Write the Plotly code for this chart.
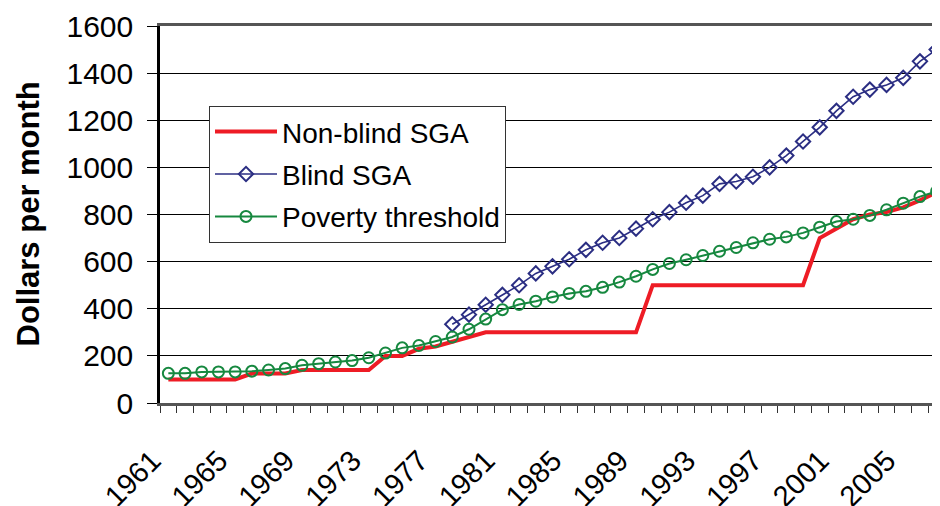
import plotly.graph_objects as go

years = list(range(1961, 2008))
nonblind_sga = [100, 100, 100, 100, 100, 125, 125, 125, 140, 140,
                140, 140, 140, 200, 200, 230, 240, 260, 280, 300,
                300, 300, 300, 300, 300, 300, 300, 300, 300, 500,
                500, 500, 500, 500, 500, 500, 500, 500, 500, 700,
                740, 780, 800, 810, 830, 860, 895]
blind_sga = [None, None, None, None, None, None, None, None, None, None,
             None, None, None, None, None, None, None, 334, 375, 417,
             459, 500, 550, 580, 610, 650, 680, 700, 740, 780,
             810, 850, 880, 930, 940, 960, 1000, 1050, 1110, 1170,
             1240, 1300, 1330, 1350, 1380, 1450, 1500]
poverty = [126, 126, 132, 132, 132, 135, 140, 146, 160, 167,
           174, 180, 192, 212, 234, 244, 261, 280, 313, 356,
           396, 418, 432, 450, 465, 474, 491, 513, 538, 567,
           592, 608, 626, 644, 660, 680, 695, 705, 722, 746,
           770, 780, 796, 820, 848, 876, 898]
tick_years = [1961, 1965, 1969, 1973, 1977, 1981, 1985, 1989, 1993, 1997, 2001, 2005]
tick_labels = [str(y) for y in tick_years]

FONT = "Liberation Sans, Arial, sans-serif"

fig = go.Figure()
fig.add_trace(go.Scatter(x=years, y=nonblind_sga, name="Non-blind SGA", mode="lines",
                         line=dict(color="#EE1C25", width=4), legendgroup="a"))
fig.add_trace(go.Scatter(x=years, y=blind_sga, name="Blind SGA", mode="lines+markers",
                         line=dict(color="#2B2E83", width=1.6),
                         marker=dict(symbol="diamond-open", size=11, line=dict(width=2, color="#2B2E83")),
                         legendgroup="b"))
fig.add_trace(go.Scatter(x=years, y=poverty, name="Poverty threshold", mode="lines+markers",
                         line=dict(color="#16883F", width=2),
                         marker=dict(symbol="circle-open", size=11, line=dict(width=2, color="#16883F")),
                         legendgroup="c"))

PLOT_W = 785
fig.update_layout(
    template="none",
    width=940, height=506,
    margin=dict(l=152, r=940 - 152 - PLOT_W, t=18, b=111, autoexpand=False),
    paper_bgcolor="white", plot_bgcolor="white",
    font=dict(family=FONT, color="black"),
    showlegend=True,
    legend=dict(x=(209 - 160) / PLOT_W, y=0.788, xanchor="left", yanchor="top",
                bgcolor="white", bordercolor="#333333", borderwidth=1,
                font=dict(size=28, family=FONT, color="black"),
                traceorder="grouped", tracegroupgap=3, itemwidth=62),
    annotations=[dict(text="<b>Dollars per month</b>", textangle=-90,
                      xref="paper", yref="paper", x=-(160 - 28) / PLOT_W, y=0.5,
                      xanchor="center", yanchor="middle", showarrow=False,
                      font=dict(size=31, family=FONT, color="black"))],
)
fig.update_xaxes(
    range=[1960.5, 2007.5], tickmode="array", tickvals=tick_years, ticktext=tick_labels,
    tickangle=-45, ticks="", tickfont=dict(size=29, family=FONT, color="black"),
    ticklabelstandoff=26, ticklabelshift=-16, showgrid=False, zeroline=False, automargin=False,
    showline=True, linecolor="#555555", linewidth=3, mirror=True,
    minor=dict(tick0=1960.5, dtick=1, ticks="outside", ticklen=7, tickcolor="#333333", tickwidth=1, showgrid=False),
)
fig.update_yaxes(
    range=[0, 1600], dtick=200, tick0=0, ticks="outside", ticklen=10, tickcolor="black", tickwidth=1,
    tickfont=dict(size=30, family=FONT, color="black"), ticklabelstandoff=8,
    showgrid=True, gridcolor="black", gridwidth=1.2, zeroline=False, automargin=False,
    showline=True, linecolor="black", linewidth=2.5,
)

fig.write_html("out.html")
